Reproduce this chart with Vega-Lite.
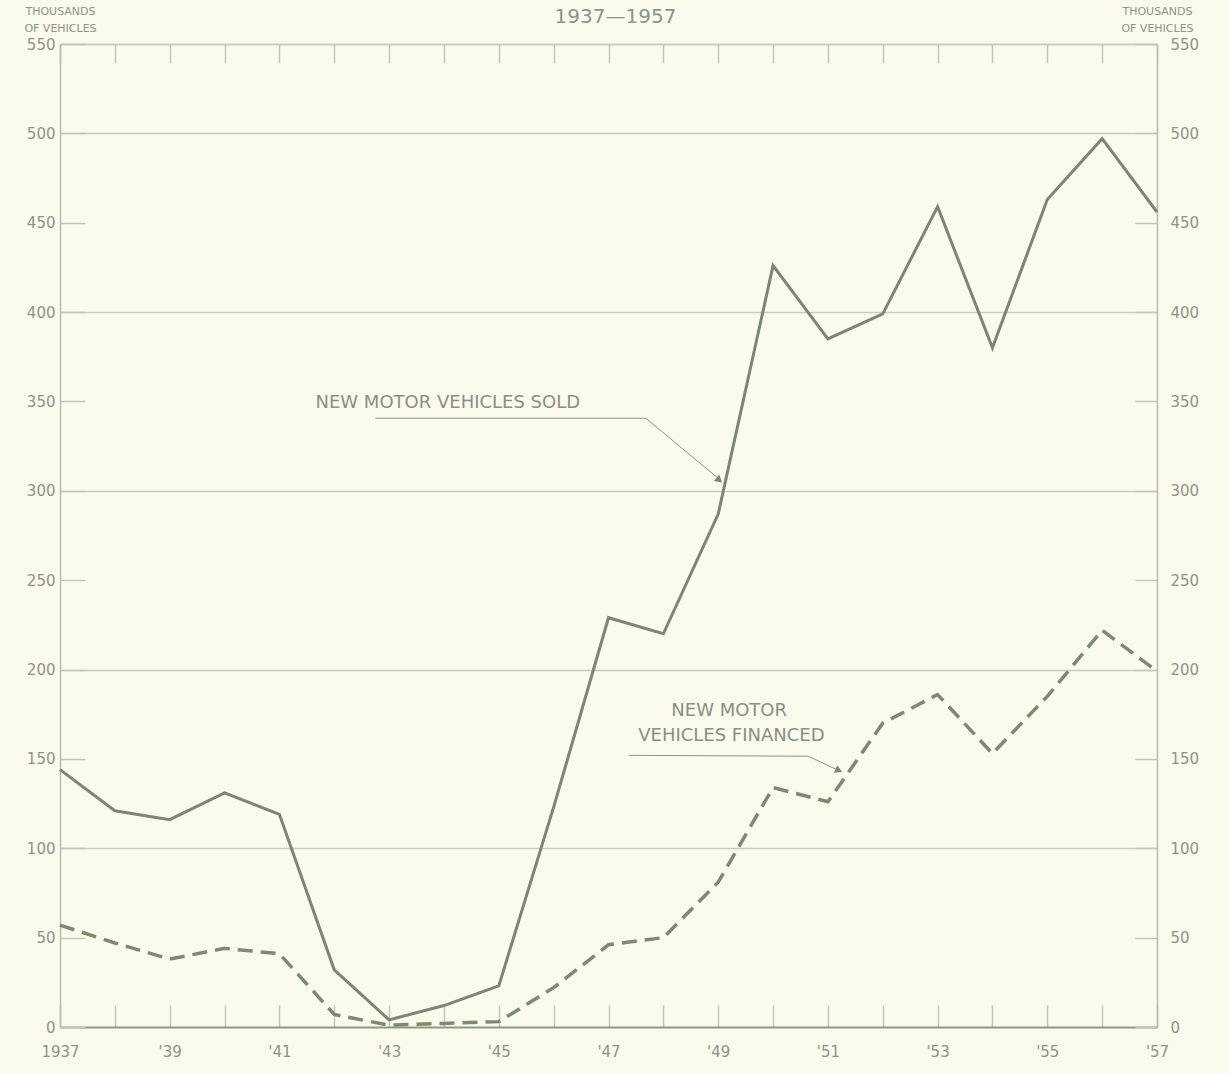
{
  "$schema": "https://vega.github.io/schema/vega-lite/v6.json",
  "width": 1097,
  "height": 983,
  "autosize": "none",
  "padding": {"left": 60, "top": 44, "right": 72, "bottom": 47},
  "background": "#fafbec",
  "config": {
    "view": {"stroke": null},
    "font": "DejaVu Sans",
    "axis": {
      "labelFont": "DejaVu Sans",
      "labelColor": "#8e9388",
      "labelFontSize": 15,
      "tickColor": "#c3c6b8",
      "tickWidth": 1.5,
      "domainColor": "#b8bcae",
      "domainWidth": 1.5,
      "titleFont": "DejaVu Sans",
      "titleFontWeight": "normal",
      "titleColor": "#8e9388",
      "titleFontSize": 11
    }
  },
  "datasets": {
    "series": [
      {"year": 1937, "series": "sold", "value": 144},
      {"year": 1938, "series": "sold", "value": 121},
      {"year": 1939, "series": "sold", "value": 116},
      {"year": 1940, "series": "sold", "value": 131},
      {"year": 1941, "series": "sold", "value": 119},
      {"year": 1942, "series": "sold", "value": 32},
      {"year": 1943, "series": "sold", "value": 4},
      {"year": 1944, "series": "sold", "value": 12},
      {"year": 1945, "series": "sold", "value": 23},
      {"year": 1946, "series": "sold", "value": 123},
      {"year": 1947, "series": "sold", "value": 229},
      {"year": 1948, "series": "sold", "value": 220},
      {"year": 1949, "series": "sold", "value": 287},
      {"year": 1950, "series": "sold", "value": 426},
      {"year": 1951, "series": "sold", "value": 385},
      {"year": 1952, "series": "sold", "value": 399},
      {"year": 1953, "series": "sold", "value": 459},
      {"year": 1954, "series": "sold", "value": 380},
      {"year": 1955, "series": "sold", "value": 463},
      {"year": 1956, "series": "sold", "value": 497},
      {"year": 1957, "series": "sold", "value": 456},
      {"year": 1937, "series": "financed", "value": 57},
      {"year": 1938, "series": "financed", "value": 47},
      {"year": 1939, "series": "financed", "value": 38},
      {"year": 1940, "series": "financed", "value": 44},
      {"year": 1941, "series": "financed", "value": 41},
      {"year": 1942, "series": "financed", "value": 7},
      {"year": 1943, "series": "financed", "value": 1},
      {"year": 1944, "series": "financed", "value": 2},
      {"year": 1945, "series": "financed", "value": 3},
      {"year": 1946, "series": "financed", "value": 22},
      {"year": 1947, "series": "financed", "value": 46},
      {"year": 1948, "series": "financed", "value": 50},
      {"year": 1949, "series": "financed", "value": 81},
      {"year": 1950, "series": "financed", "value": 134},
      {"year": 1951, "series": "financed", "value": 126},
      {"year": 1952, "series": "financed", "value": 170},
      {"year": 1953, "series": "financed", "value": 186},
      {"year": 1954, "series": "financed", "value": 153},
      {"year": 1955, "series": "financed", "value": 185},
      {"year": 1956, "series": "financed", "value": 222},
      {"year": 1957, "series": "financed", "value": 199}
    ],
    "leaders": [
      {"id": "sold", "order": 1, "year": 1942.75, "value": 340.6},
      {"id": "sold", "order": 2, "year": 1947.68, "value": 340.6},
      {"id": "sold", "order": 3, "year": 1949.0, "value": 307},
      {"id": "financed", "order": 1, "year": 1947.37, "value": 152},
      {"id": "financed", "order": 2, "year": 1950.64, "value": 151.5},
      {"id": "financed", "order": 3, "year": 1951.2, "value": 143.5}
    ],
    "arrows": [
      {"id": "sold", "year": 1949.02, "value": 306},
      {"id": "financed", "year": 1951.2, "value": 143.5}
    ],
    "notes": [
      {"year": 1944.07, "value": 349, "text": "NEW MOTOR VEHICLES SOLD"},
      {"year": 1949.2, "value": 176.7, "text": "NEW MOTOR"},
      {"year": 1949.24, "value": 162.7, "text": "VEHICLES FINANCED"}
    ]
  },
  "layer": [
    {
      "data": {"name": "series"},
      "transform": [{"filter": "datum.series === 'sold'"}],
      "mark": {"type": "line", "color": "#7c8672", "strokeWidth": 3, "strokeJoin": "miter"},
      "encoding": {
        "x": {
          "field": "year", "type": "quantitative",
          "scale": {"domain": [1937, 1957], "nice": false, "zero": false},
          "axis": {
            "orient": "bottom",
            "values": [1937,1938,1939,1940,1941,1942,1943,1944,1945,1946,1947,1948,1949,1950,1951,1952,1953,1954,1955,1956,1957],
            "labelExpr": "datum.value === 1937 ? '1937' : ((datum.value - 1937) % 2 === 0 ? \"'\" + substring(toString(datum.value), 2, 4) : '')",
            "labelFlush": false,
            "tickSize": -22,
            "labelPadding": 39,
            "domainColor": "#8d9a7e",
            "domainWidth": 2,
            "grid": false,
            "title": null
          }
        },
        "y": {
          "field": "value", "type": "quantitative",
          "scale": {"domain": [0, 550], "nice": false},
          "axis": {
            "orient": "left",
            "values": [0,50,100,150,200,250,300,350,400,450,500,550],
            "tickSize": -25,
            "labelPadding": 30,
            "grid": true,
            "gridColor": "#c8cbbd",
            "gridWidth": 1.5,
            "gridOpacity": {"condition": {"test": "(datum.value % 100 === 0 && datum.value > 0) || datum.value === 550", "value": 1}, "value": 0},
            "title": ["THOUSANDS", "OF VEHICLES"],
            "titleAngle": 0,
            "titleAlign": "center",
            "titleBaseline": "alphabetic",
            "titleX": 0,
            "titleY": -30,
            "titleLineHeight": 17
          }
        }
      }
    },
    {
      "data": {"name": "series"},
      "transform": [{"filter": "datum.series === 'financed'"}],
      "mark": {"type": "line", "color": "#7c8a6d", "strokeWidth": 3.5, "strokeDash": [15, 8]},
      "encoding": {
        "x": {
          "field": "year", "type": "quantitative",
          "axis": {
            "orient": "top",
            "values": [1937,1938,1939,1940,1941,1942,1943,1944,1945,1946,1947,1948,1949,1950,1951,1952,1953,1954,1955,1956,1957],
            "labels": false,
            "tickSize": -19,
            "domainColor": "#c8cbbd",
            "grid": false,
            "title": "1937—1957",
            "titleFontSize": 20,
            "titleAngle": 0,
            "titleAlign": "center",
            "titleBaseline": "alphabetic",
            "titleX": 555,
            "titleY": -22
          }
        },
        "y": {
          "field": "value", "type": "quantitative",
          "axis": {
            "orient": "right",
            "values": [0,50,100,150,200,250,300,350,400,450,500,550],
            "tickSize": -22,
            "labelPadding": 35,
            "grid": false,
            "title": ["THOUSANDS", "OF VEHICLES"],
            "titleAngle": 0,
            "titleAlign": "center",
            "titleBaseline": "alphabetic",
            "titleX": 0,
            "titleY": -30,
            "titleLineHeight": 17
          }
        }
      }
    },
    {
      "data": {"name": "leaders"},
      "mark": {"type": "line", "color": "#8e9388", "strokeWidth": 1},
      "encoding": {
        "x": {"field": "year", "type": "quantitative", "axis": null},
        "y": {"field": "value", "type": "quantitative", "axis": null},
        "detail": {"field": "id"},
        "order": {"field": "order"}
      }
    },
    {
      "data": {"name": "arrows"},
      "mark": {"type": "point", "shape": "triangle-up", "filled": true, "color": "#7c8672", "size": 70, "opacity": 1},
      "encoding": {
        "x": {"field": "year", "type": "quantitative", "axis": null},
        "y": {"field": "value", "type": "quantitative", "axis": null},
        "angle": {"field": "id", "type": "nominal", "scale": {"domain": ["sold", "financed"], "range": [130, 115]}, "legend": null}
      }
    },
    {
      "data": {"name": "notes"},
      "mark": {"type": "text", "font": "DejaVu Sans", "fontSize": 18, "color": "#8a8f82", "align": "center", "baseline": "middle"},
      "encoding": {
        "x": {"field": "year", "type": "quantitative", "axis": null},
        "y": {"field": "value", "type": "quantitative", "axis": null},
        "text": {"field": "text"}
      }
    }
  ],
  "resolve": {"axis": {"x": "independent", "y": "independent"}}
}
